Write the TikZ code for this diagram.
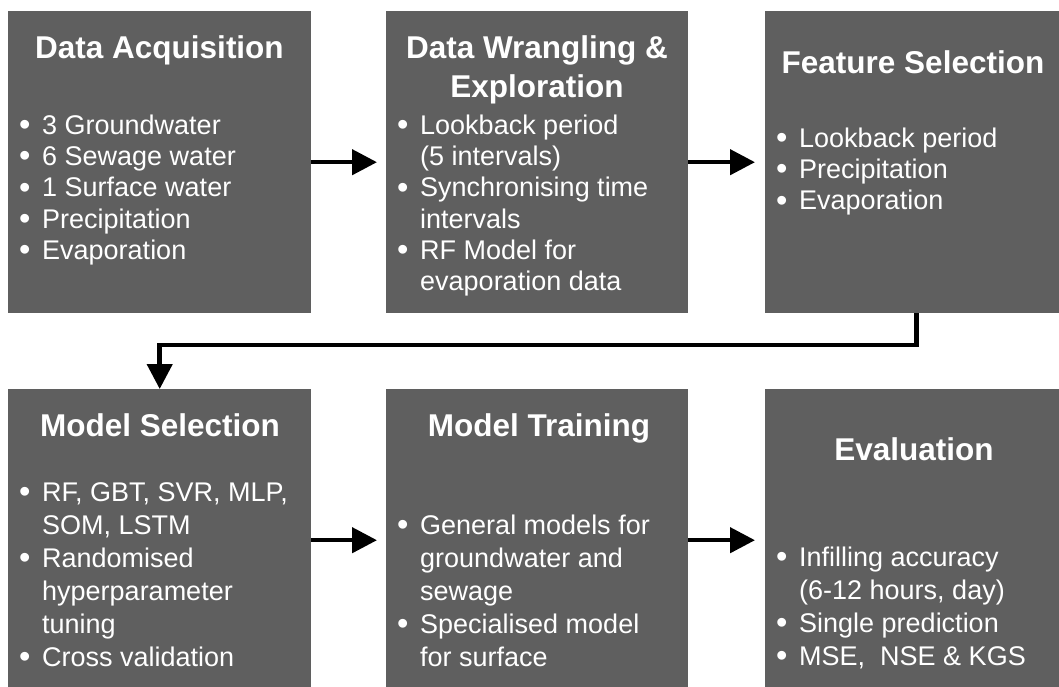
\documentclass[tikz,border=0pt]{standalone}
\usepackage{fontspec}
\usepackage{graphicx}
\setmainfont{Liberation Sans}
\usetikzlibrary{arrows.meta}
\definecolor{boxgray}{HTML}{5F5F5F}
\newcommand{\bul}{\raisebox{-1.2pt}{\scalebox{1.2}{•}}}
\newcommand{\bitem}[1]{\makebox[23pt][l]{\bul}#1}
\newcommand{\bcont}[1]{\hspace*{23pt}#1}
\tikzset{
  stage/.style={fill=boxgray, draw=none, inner sep=0pt, anchor=north west,
                minimum width=303pt, minimum height=302pt},
  ttl/.style={text=white, font=\fontsize{31.5}{39}\selectfont\bfseries,
              inner sep=0pt, anchor=base},
  body/.style={text=white, font=\fontsize{27}{31.3}\selectfont, align=left,
               inner sep=0pt, anchor=north west},
  bodylow/.style={body, font=\fontsize{27}{33}\selectfont},
  flow/.style={line width=4.5pt, -{Triangle[length=25pt,width=25pt]}}
}
\begin{document}
\begin{tikzpicture}[x=1pt,y=-1pt]
\useasboundingbox (0,0) rectangle (1059,686);
\clip (0,0) rectangle (1059,686);

% boxes
\node[stage] (da) at (8,11) {};
\node[stage, minimum width=302pt] (dw) at (386,11) {};
\node[stage] (fs) at (765,11) {};
\node[stage] (ms) at (8,389) {};
\node[stage, minimum width=302pt] (mt) at (386,389) {};
\node[stage] (ev) at (765,389) {};

% titles
\node[ttl] (daT) at (159.5,58) {Data Acquisition};
\node[ttl] (dwT1) at (537,58) {Data Wrangling \&};
\node[ttl] (dwT2) at (537,97) {Exploration};
\node[ttl] (fsT) at (913,73) {Feature Selection};
\node[ttl] (msT) at (160,436) {Model Selection};
\node[ttl] (mtT) at (539,436) {Model Training};
\node[ttl] (evT) at (914,460) {Evaluation};

% bodies
\node[body] (daB) at (19,112.1) {\strut\bitem{3 Groundwater}\\
  \bitem{6 Sewage water}\\
  \bitem{1 Surface water}\\
  \bitem{Precipitation}\\
  \bitem{Evaporation}};
\node[body] (dwB) at (397,112.1) {\strut\bitem{Lookback period}\\
  \bcont{(5 intervals)}\\
  \bitem{Synchronising time}\\
  \bcont{intervals}\\
  \bitem{RF Model for}\\
  \bcont{evaporation data}};
\node[body] (fsB) at (776,125.1) {\strut\bitem{Lookback period}\\
  \bitem{Precipitation}\\
  \bitem{Evaporation}};
\node[bodylow] (msB) at (19,477.9) {\strut\bitem{RF, GBT, SVR, MLP,}\\
  \bcont{SOM, LSTM}\\
  \bitem{Randomised}\\
  \bcont{hyperparameter}\\
  \bcont{tuning}\\
  \bitem{Cross validation}};
\node[bodylow] (mtB) at (397,510.9) {\strut\bitem{General models for}\\
  \bcont{groundwater and}\\
  \bcont{sewage}\\
  \bitem{Specialised model}\\
  \bcont{for surface}};
\node[bodylow] (evB) at (776,542.9) {\strut\bitem{Infilling accuracy}\\
  \bcont{(6-12 hours, day)}\\
  \bitem{Single prediction}\\
  \bitem{MSE,\ \ NSE \& KGS}};

% connectors
\draw[flow, shorten >=9pt] (da) -- (dw);
\draw[flow, shorten >=10pt] (dw) -- (fs);
\coordinate (bend) at (0,345);
\draw[flow] (fs.south) -- (fs.south |- bend) -| (ms.north);
\draw[flow, shorten >=9pt] (ms) -- (mt);
\draw[flow, shorten >=10pt] (mt) -- (ev);
\end{tikzpicture}
\end{document}
